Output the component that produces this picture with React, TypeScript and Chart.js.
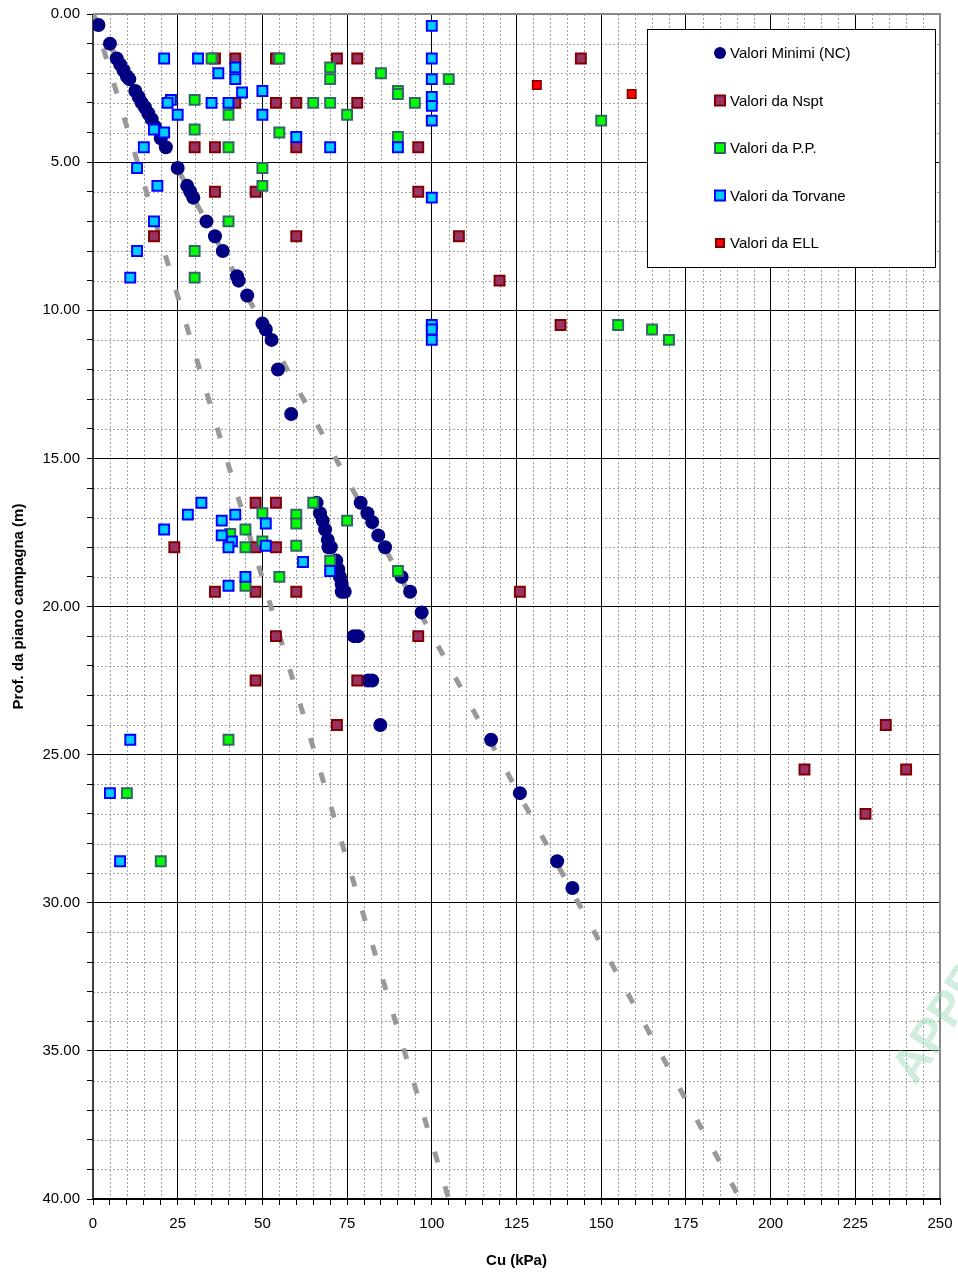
import React, { useEffect, useRef } from 'react';
import { Chart, registerables } from 'chart.js';

Chart.register(...registerables);

// ---------- DATA ----------
// [Cu (kPa), depth (m)]
const ncPoints: [number, number][] = [
  [1.6, 0.37], [5, 1.0], [7, 1.5], [8, 1.7], [9, 1.9], [10, 2.1], [10.7, 2.2], [12.5, 2.6],
  [13.5, 2.8], [14.4, 3.0], [15.3, 3.15], [16.3, 3.35], [17.3, 3.55], [18.3, 3.8], [20, 4.2],
  [21.5, 4.5], [25, 5.2], [27.8, 5.8], [28.7, 6.0], [29.6, 6.2], [33.5, 7.0], [36, 7.5],
  [38.3, 8.0], [42.5, 8.85], [43, 9.0], [45.5, 9.5], [50, 10.45], [51, 10.65], [52.7, 11.0],
  [54.6, 12.0], [58.5, 13.5],
  [66, 16.5], [67, 16.85], [67.8, 17.1], [68.5, 17.4], [69.3, 17.75], [69.5, 18.0], [70.2, 18.0],
  [71.8, 18.45], [72.4, 18.75], [72.9, 19.0], [73.4, 19.25], [73.4, 19.5], [74.3, 19.5],
  [79, 16.5], [81, 16.85], [82.4, 17.15], [84.2, 17.6], [86.2, 18.0], [91.1, 19.0], [93.6, 19.5],
  [97, 20.2], [77, 21.0], [78.2, 21.0], [81.2, 22.5], [82.4, 22.5], [84.8, 24.0],
  [117.5, 24.5], [126, 26.3], [137, 28.6], [141.5, 29.5],
];

const nsptPoints: [number, number][] = [
  [36, 1.5], [42, 1.5], [54, 1.5], [72, 1.5], [78, 1.5], [144, 1.5],
  [42, 3.0], [54, 3.0], [60, 3.0], [78, 3.0],
  [30, 4.5], [36, 4.5], [60, 4.5], [96, 4.5],
  [36, 6.0], [48, 6.0], [96, 6.0],
  [18, 7.5], [60, 7.5], [108, 7.5],
  [120, 9.0], [138, 10.5],
  [48, 16.5], [54, 16.5], [24, 18.0], [48, 18.0], [54, 18.0],
  [36, 19.5], [48, 19.5], [60, 19.5], [126, 19.5],
  [54, 21.0], [96, 21.0], [48, 22.5], [78, 22.5], [72, 24.0],
  [234, 24.0], [210, 25.5], [240, 25.5], [228, 27.0],
];

const ppPoints: [number, number][] = [
  [35, 1.5], [55, 1.5], [70, 1.8], [70, 2.2], [85, 2.0], [105, 2.2], [90, 2.6], [90, 2.7],
  [30, 2.9], [65, 3.0], [70, 3.0], [95, 3.0], [40, 3.4], [75, 3.4], [150, 3.6],
  [30, 3.9], [55, 4.0], [90, 4.15], [40, 4.5],
  [50, 5.2], [50, 5.8], [40, 7.0], [30, 8.0], [30, 8.9],
  [155, 10.5], [165, 10.65], [170, 11.0],
  [65, 16.5], [50, 16.85], [60, 16.9], [75, 17.1], [60, 17.2], [45, 17.4], [40.5, 17.55],
  [50, 17.8], [45, 18.0], [60, 17.95], [70, 18.45], [90, 18.8], [55, 19.0], [45, 19.3],
  [40, 24.5], [10, 26.3], [20, 28.6],
];

const torvanePoints: [number, number][] = [
  [100, 0.4], [21, 1.5], [31, 1.5], [100, 1.5], [42, 1.8], [37, 2.0], [42, 2.2], [100, 2.2],
  [50, 2.6], [44, 2.65], [100, 2.8], [23, 2.9], [22, 3.0], [35, 3.0], [40, 3.0], [100, 3.1],
  [25, 3.4], [50, 3.4], [100, 3.6], [18, 3.9], [21, 4.0], [60, 4.15], [15, 4.5], [70, 4.5],
  [90, 4.5], [13, 5.2], [19, 5.8], [100, 6.2], [18, 7.0], [13, 8.0], [11, 8.9],
  [100, 10.5], [100, 10.65], [100, 11.0],
  [32, 16.5], [28, 16.9], [42, 16.9], [38, 17.1], [51, 17.2], [21, 17.4], [38, 17.6],
  [41, 17.8], [40, 18.0], [51, 17.95], [62, 18.5], [70, 18.8], [45, 19.0], [40, 19.3],
  [11, 24.5], [5, 26.3], [8, 28.6],
];

const ellPoints: [number, number][] = [
  [131, 2.4], [159, 2.7],
];

const trendLow: [number, number][] = [[0, 0], [105, 40]];
const trendHigh: [number, number][] = [[0, 0], [191, 40]];

const legendLabels = [
  'Valori Minimi (NC)',
  'Valori da Nspt',
  'Valori da P.P.',
  'Valori da Torvane',
  'Valori da ELL',
];

const xAxisTitle = 'Cu (kPa)';
const yAxisTitle = 'Prof. da piano campagna (m)';
const watermarkText = 'APPROVATO';

const X_MIN = 0, X_MAX = 250, X_MAJOR = 25, X_MINOR = 5;
const Y_MIN = 0, Y_MAX = 40, Y_MAJOR = 5, Y_MINOR = 1;

// ---------- STYLE ----------
const FONT = '"Liberation Sans", Arial, sans-serif';

const toXY = (arr: [number, number][]) => arr.map(([x, y]) => ({ x, y }));

const gridPlugin = {
  id: 'customGrid',
  beforeDraw(chart: any) {
    const { ctx, chartArea, scales } = chart;
    const { left, right, top, bottom } = chartArea;
    const xs = scales.x, ys = scales.y;
    ctx.save();
    ctx.fillStyle = '#ffffff';
    ctx.fillRect(0, 0, chart.width, chart.height);
    ctx.strokeStyle = '#a0a0a0';
    ctx.lineWidth = 1;
    ctx.setLineDash([2, 2]);
    for (let v = X_MIN + X_MINOR; v < X_MAX; v += X_MINOR) {
      if (v % X_MAJOR === 0) continue;
      const px = Math.round(xs.getPixelForValue(v)) + 0.5;
      ctx.beginPath();
      ctx.moveTo(px, top);
      ctx.lineTo(px, bottom);
      ctx.stroke();
    }
    for (let v = Y_MIN + Y_MINOR; v < Y_MAX; v += Y_MINOR) {
      if (v % Y_MAJOR === 0) continue;
      const py = Math.round(ys.getPixelForValue(v)) + 0.5;
      ctx.beginPath();
      ctx.moveTo(left, py);
      ctx.lineTo(right, py);
      ctx.stroke();
    }
    ctx.restore();
  },
  beforeDatasetsDraw(chart: any) {
    const { ctx, chartArea } = chart;
    const { left, right, top, bottom } = chartArea;
    ctx.save();
    ctx.setLineDash([]);
    ctx.strokeStyle = '#888888';
    ctx.lineWidth = 2;
    ctx.beginPath();
    ctx.moveTo(left, top);
    ctx.lineTo(right, top);
    ctx.lineTo(right, bottom);
    ctx.stroke();
    ctx.strokeStyle = '#000000';
    ctx.lineWidth = 1.5;
    ctx.beginPath();
    ctx.moveTo(left, top);
    ctx.lineTo(left, bottom);
    ctx.stroke();
    ctx.lineWidth = 2;
    ctx.beginPath();
    ctx.moveTo(left, bottom);
    ctx.lineTo(right + 1, bottom);
    ctx.stroke();
    ctx.restore();
  },
  afterDraw(chart: any) {
    const { ctx, chartArea } = chart;
    const ds = chart.data.datasets;
    ctx.save();
    // Legend
    const bx = chartArea.right - 293;
    const by = chartArea.top + 15;
    const bw = 288, bh = 238;
    ctx.fillStyle = '#ffffff';
    ctx.fillRect(bx, by, bw, bh);
    ctx.strokeStyle = '#000000';
    ctx.lineWidth = 1;
    ctx.strokeRect(Math.round(bx) + 0.5, Math.round(by) + 0.5, bw, bh);
    const order = [4, 3, 2, 1, 0]; // dataset indices for legend entries
    ctx.font = `15px ${FONT}`;
    ctx.textBaseline = 'middle';
    ctx.textAlign = 'left';
    order.forEach((di, i) => {
      const d = ds[di];
      const cy = by + 24 + i * 47.5;
      const cx = bx + 73;
      ctx.beginPath();
      if (d.pointStyle === 'circle') {
        ctx.arc(cx, cy, 6, 0, Math.PI * 2);
        ctx.fillStyle = d.pointBackgroundColor;
        ctx.fill();
      } else {
        const s = di === 0 ? 8 : 10;
        ctx.fillStyle = d.pointBackgroundColor;
        ctx.strokeStyle = d.pointBorderColor;
        ctx.lineWidth = 2;
        ctx.rect(cx - s / 2, cy - s / 2, s, s);
        ctx.fill();
        ctx.stroke();
      }
      ctx.fillStyle = '#000000';
      ctx.fillText(legendLabels[i], cx + 10, cy + 1);
    });
    // watermark
    ctx.translate(916, 1086);
    ctx.rotate(-57 * Math.PI / 180);
    ctx.font = `bold 48px ${FONT}`;
    ctx.textBaseline = 'alphabetic';
    ctx.fillStyle = 'rgba(150, 215, 180, 0.45)';
    ctx.fillText(watermarkText, 0, 0);
    ctx.restore();
  },
};

export default function App() {
  const canvasRef = useRef<HTMLCanvasElement | null>(null);

  useEffect(() => {
    const canvas = canvasRef.current;
    if (!canvas) return;
    const majorColor = (major: number, min: number, max: number) => (c: any) => {
      const v = c.tick ? c.tick.value : NaN;
      if (v === min || v === max) return 'rgba(0,0,0,0)';
      return Math.abs(v % major) < 1e-9 ? '#000000' : 'rgba(0,0,0,0)';
    };

    const chart = new Chart(canvas, {
      type: 'scatter',
      data: {
        datasets: [
          {
            label: legendLabels[4],
            data: toXY(ellPoints),
            pointStyle: 'rect',
            pointRadius: 6,
            pointBackgroundColor: '#ff0000',
            pointBorderColor: '#800000',
            pointBorderWidth: 1.5,
          },
          {
            label: legendLabels[3],
            data: toXY(torvanePoints),
            pointStyle: 'rect',
            pointRadius: 7,
            pointBackgroundColor: '#00ccff',
            pointBorderColor: '#0000ff',
            pointBorderWidth: 2,
          },
          {
            label: legendLabels[2],
            data: toXY(ppPoints),
            pointStyle: 'rect',
            pointRadius: 7,
            pointBackgroundColor: '#00ff00',
            pointBorderColor: '#336666',
            pointBorderWidth: 2,
          },
          {
            label: legendLabels[1],
            data: toXY(nsptPoints),
            pointStyle: 'rect',
            pointRadius: 7,
            pointBackgroundColor: '#993366',
            pointBorderColor: '#800000',
            pointBorderWidth: 2,
          },
          {
            label: legendLabels[0],
            data: toXY(ncPoints),
            pointStyle: 'circle',
            pointRadius: 7,
            pointBackgroundColor: '#000080',
            pointBorderColor: '#000080',
            pointBorderWidth: 0,
          },
          {
            label: 'trendLow',
            data: toXY(trendLow),
            showLine: true,
            pointRadius: 0,
            borderColor: '#999999',
            borderWidth: 5,
            borderDash: [11, 25],
            borderCapStyle: 'butt',
          },
          {
            label: 'trendHigh',
            data: toXY(trendHigh),
            showLine: true,
            pointRadius: 0,
            borderColor: '#999999',
            borderWidth: 5,
            borderDash: [11, 25],
            borderCapStyle: 'butt',
          },
        ] as any,
      },
      options: {
        responsive: false,
        animation: false,
        events: [],
        layout: { padding: { top: 14, right: 18, left: 0, bottom: 0 } },
        plugins: {
          legend: { display: false },
          tooltip: { enabled: false },
        },
        scales: {
          x: {
            type: 'linear',
            position: 'bottom',
            min: X_MIN,
            max: X_MAX,
            afterFit: (s: any) => { s.height = 75; s.paddingLeft = 0; s.paddingRight = 0; },
            ticks: {
              stepSize: X_MINOR,
              autoSkip: false,
              maxRotation: 0,
              padding: 10,
              color: '#000000',
              font: { family: FONT, size: 15 },
              callback: (v: any) => (Number(v) % X_MAJOR === 0 ? String(v) : ''),
            },
            grid: {
              color: majorColor(X_MAJOR, X_MIN, X_MAX),
              tickColor: '#000000',
              tickLength: 6,
              lineWidth: 1,
            },
            border: { display: false },
            title: {
              display: true,
              text: xAxisTitle,
              color: '#000000',
              font: { family: FONT, size: 15, weight: 'bold' },
              padding: { top: 0, bottom: 4 },
            },
          },
          y: {
            type: 'linear',
            reverse: true,
            min: Y_MIN,
            max: Y_MAX,
            afterFit: (s: any) => { s.width = 93; s.paddingTop = 0; s.paddingBottom = 0; },
            ticks: {
              stepSize: Y_MINOR,
              autoSkip: false,
              padding: 7,
              color: '#000000',
              font: { family: FONT, size: 15 },
              callback: (v: any) => (Number(v) % Y_MAJOR === 0 ? Number(v).toFixed(2) : ''),
            },
            grid: {
              color: majorColor(Y_MAJOR, Y_MIN, Y_MAX),
              tickColor: '#000000',
              tickLength: 6,
              lineWidth: 1,
            },
            border: { display: false },
            title: {
              display: true,
              text: yAxisTitle,
              color: '#000000',
              font: { family: FONT, size: 15, weight: 'bold' },
              padding: { top: 10, bottom: 0 },
            },
          },
        },
      } as any,
      plugins: [gridPlugin],
    });
    return () => chart.destroy();
  }, []);

  return (
    <div style={{ position: 'absolute', left: 0, top: 0, width: 958, height: 1274, background: '#fff' }}>
      <canvas ref={canvasRef} width={958} height={1274} style={{ display: 'block' }} />
    </div>
  );
}
